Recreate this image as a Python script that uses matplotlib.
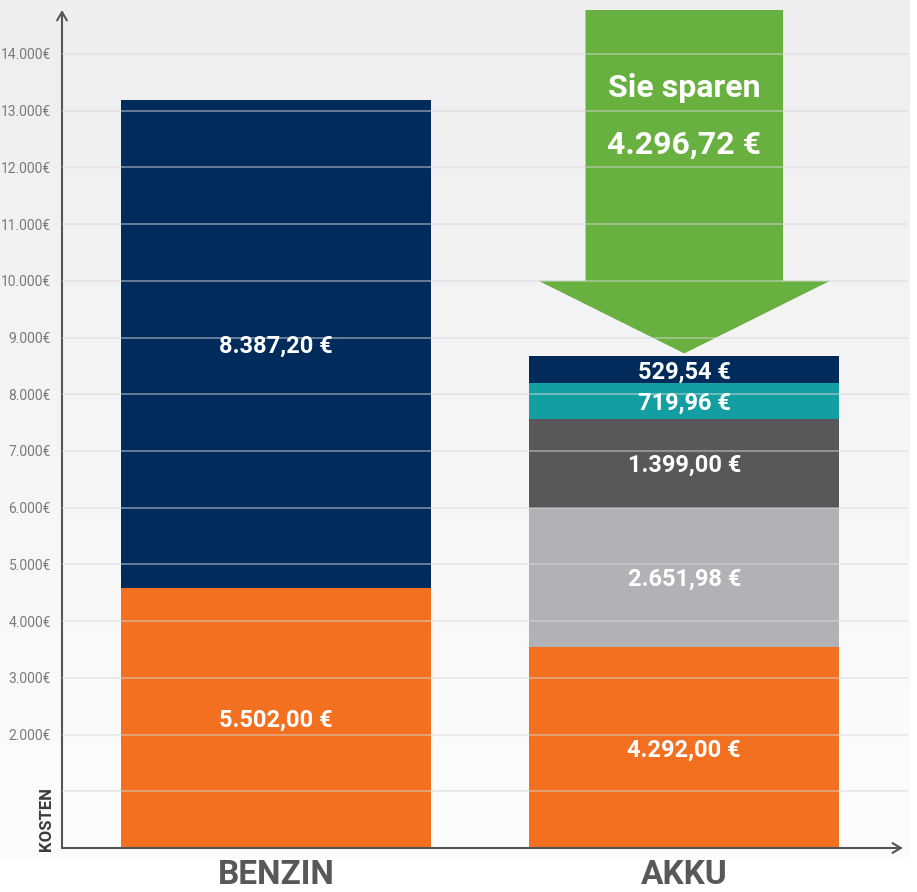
import numpy as np
import matplotlib
matplotlib.use("Agg")
import matplotlib.pyplot as plt
from matplotlib.patches import Polygon

plt.rcParams["font.family"] = ["Roboto", "DejaVu Sans"]

# ---------------------------------------------------------------------------
# Data (segment heights as drawn, plus the printed amounts)
# ---------------------------------------------------------------------------
categories = ["BENZIN", "AKKU"]

benzin_heights = [4590, 8590]
benzin_amounts = [5502.00, 8387.20]
benzin_colors = ["#f37021", "#002b5b"]

akku_heights = [3550, 2450, 1570, 620, 490]
akku_amounts = [4292.00, 2651.98, 1399.00, 719.96, 529.54]
akku_colors = ["#f37021", "#b1b2b5", "#58585a", "#139fa2", "#002b5b"]

yticks = list(range(2000, 15000, 1000))
gridlines = list(range(1000, 15000, 1000))
y_max = 14775

savings = sum(benzin_amounts) - sum(akku_amounts)


def eur(v, space=True):
    s = f"{v:,.2f}".replace(",", "X").replace(".", ",").replace("X", ".")
    return s + (" €" if space else "€")


def eur_tick(v):
    return f"{int(v):,}".replace(",", ".") + "€"


# ---------------------------------------------------------------------------
# Figure
# ---------------------------------------------------------------------------
fig = plt.figure(figsize=(9.17, 8.92), dpi=100)
fig.patch.set_facecolor("white")

# soft grey-to-white background
bg = fig.add_axes([0, 30 / 892, 910 / 917, 862 / 892], zorder=-5)
grad = np.linspace(0, 1, 256).reshape(-1, 1)
bg_cmap = matplotlib.colors.LinearSegmentedColormap.from_list("bg", ["#eeeef0", "#fdfdfd"])
bg.imshow(grad, aspect="auto", cmap=bg_cmap, extent=[0, 1, 0, 1], origin="upper")
bg.axis("off")

ax = fig.add_axes([62 / 917, 44 / 892, 846 / 917, 838 / 892])
ax.patch.set_alpha(0)

width = 0.76
xpos = [0, 1]

for heights, amounts, colors, x in [(benzin_heights, benzin_amounts, benzin_colors, xpos[0]),
                                    (akku_heights, akku_amounts, akku_colors, xpos[1])]:
    bottom = 0
    for h, a, c in zip(heights, amounts, colors):
        ax.bar(x, h, width=width, bottom=bottom, color=c, linewidth=0, zorder=2)
        ax.text(x, bottom + h / 2, eur(a), ha="center", va="center_baseline", color="white",
                fontsize=17, fontweight="bold", zorder=5)
        bottom += h

# savings arrow pointing down onto the AKKU bar
akku_total = sum(akku_heights)
tip = akku_total + 40
base = 10000
shaft = 0.242
head = 0.357
xa = xpos[1]
arrow = Polygon([(xa - shaft, y_max), (xa + shaft, y_max), (xa + shaft, base),
                 (xa + head, base), (xa, tip), (xa - head, base), (xa - shaft, base)],
                closed=True, facecolor="#68b03f", edgecolor="none", zorder=3)
ax.add_patch(arrow)
ax.text(xa, 13400, "Sie sparen", ha="center", va="center", color="white",
        fontsize=23, fontweight="bold", zorder=5)
ax.text(xa, 12400, eur(savings), ha="center", va="center", color="white",
        fontsize=23, fontweight="bold", zorder=5)

# grid lines sit on top of everything, faintly
for g in gridlines:
    ax.axhline(g, color="#d8d8da", alpha=0.55, linewidth=1.2, zorder=4)

ax.set_xlim(-0.5244, 1.548)
ax.set_ylim(0, y_max)

ax.set_yticks(yticks)
ax.set_yticklabels([eur_tick(t) for t in yticks], color="#7a7a7a", fontsize=10)
ax.tick_params(axis="y", length=0, pad=8)

ax.set_xticks(xpos)
ax.set_xticklabels(categories, fontsize=24, fontweight="bold", color="#58585a")
ax.tick_params(axis="x", length=0, pad=8)

for s in ["top", "right", "left", "bottom"]:
    ax.spines[s].set_visible(False)

# axis lines with open arrowheads
ax.annotate("", xy=(0, 1.0), xytext=(0, 0), xycoords="axes fraction",
            arrowprops=dict(arrowstyle="->,head_length=0.6,head_width=0.35",
                            color="#555555", lw=1.5, shrinkA=0, shrinkB=0))
ax.annotate("", xy=(0.994, 0), xytext=(0, 0), xycoords="axes fraction",
            arrowprops=dict(arrowstyle="->,head_length=0.6,head_width=0.35",
                            color="#555555", lw=1.5, shrinkA=0, shrinkB=0))

fig.text(47 / 917, 1 - 819 / 892, "KOSTEN", rotation=90, ha="center", va="center",
         fontsize=12, fontweight="bold", color="#3a3a3a")

plt.savefig("out.png", dpi=100)
plt.close()
